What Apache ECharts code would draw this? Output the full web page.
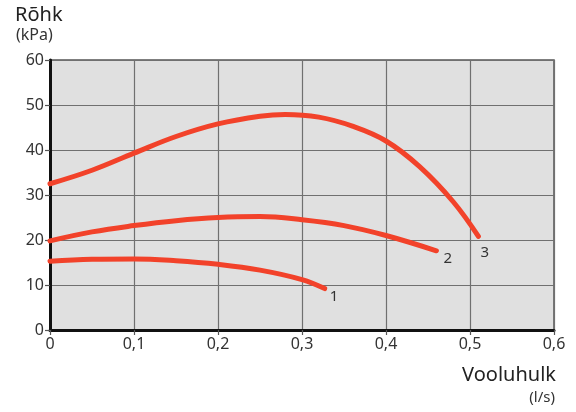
<!DOCTYPE html>
<html><head><meta charset="utf-8">
<script src="https://cdn.jsdelivr.net/npm/echarts@6/dist/echarts.min.js"></script>
<style>html,body{margin:0;padding:0;background:#fff}#c{width:576px;height:412px}</style>
</head><body><div id="c"></div>
<script>
const xTicks = [0, 0.1, 0.2, 0.3, 0.4, 0.5, 0.6];
const curve1X = [0, 0.05, 0.1, 0.15, 0.2, 0.25, 0.3, 0.327];
const curve1Y = [15.3, 15.7, 15.8, 15.4, 14.6, 13.3, 11.2, 9.2];
const curve2X = [0, 0.05, 0.1, 0.15, 0.2, 0.25, 0.3, 0.35, 0.4, 0.46];
const curve2Y = [19.8, 21.8, 23.2, 24.3, 25.0, 25.2, 24.5, 23.2, 21.0, 17.6];
const curve3X = [0, 0.05, 0.1, 0.15, 0.2, 0.25, 0.28, 0.32, 0.36, 0.4, 0.44, 0.48, 0.51];
const curve3Y = [32.5, 35.5, 39.3, 43.0, 45.8, 47.5, 47.9, 47.3, 45.3, 42.0, 36.3, 28.5, 20.8];
const curveNames = ['1', '2', '3'];
const yTitle = 'Rõhk', yUnit = '(kPa)', xTitle = 'Vooluhulk', xUnit = '(l/s)';

const FONT = 'Noto Sans';
const RED = '#f2422a';
function zip(xs, ys){ return xs.map((x,i)=>[x, ys[i]]); }
function mk(name, xs, ys, off){
  return {type:'line', name, data:zip(xs, ys), smooth:0.4, symbol:'none', showSymbol:false,
    lineStyle:{color:RED, width:5, cap:'round'},
    endLabel:{show:true, formatter:name, offset:off, distance:4,
      color:'#333', fontSize:15, fontFamily:FONT}, z:5};
}
const chart = echarts.init(document.getElementById('c'));
chart.setOption({
  animation:false,
  grid:{left:50, right:22, top:60, bottom:82, show:true, backgroundColor:'#e0e0e0', borderColor:'#555', borderWidth:1.5},
  xAxis:{type:'value', min:0, max:0.6, interval:0.1,
    axisLine:{show:true, onZero:false, lineStyle:{color:'#111', width:3}},
    axisTick:{show:true, length:5, lineStyle:{color:'#555', width:1.2}},
    splitLine:{show:true, lineStyle:{color:'#707070', width:1.2}},
    axisLabel:{color:'#333', fontSize:16, fontFamily:FONT, margin:6,
      formatter:v=>String(+v.toFixed(1)).replace('.', ',')}},
  yAxis:{type:'value', min:0, max:60, interval:10,
    axisLine:{show:true, onZero:false, lineStyle:{color:'#111', width:3}},
    axisTick:{show:true, length:5, lineStyle:{color:'#555', width:1.2}},
    splitLine:{show:true, lineStyle:{color:'#707070', width:1.2}},
    axisLabel:{color:'#333', fontSize:16, fontFamily:FONT, margin:6}},
  graphic:[
    {type:'text', left:15, top:5, style:{text:yTitle, fill:'#222', fontSize:20, fontFamily:FONT}},
    {type:'text', left:16, top:27, style:{text:yUnit, fill:'#333', fontSize:16, fontFamily:FONT}},
    {type:'text', right:20, top:365, style:{text:xTitle, fill:'#222', fontSize:20, fontFamily:FONT}},
    {type:'text', right:21, top:390, style:{text:xUnit, fill:'#333', fontSize:15, fontFamily:FONT}}
  ],
  series:[
    mk(curveNames[0], curve1X, curve1Y, [1, 8]),
    mk(curveNames[1], curve2X, curve2Y, [3, 8]),
    mk(curveNames[2], curve3X, curve3Y, [-2, 16])
  ]
});
</script></body></html>
